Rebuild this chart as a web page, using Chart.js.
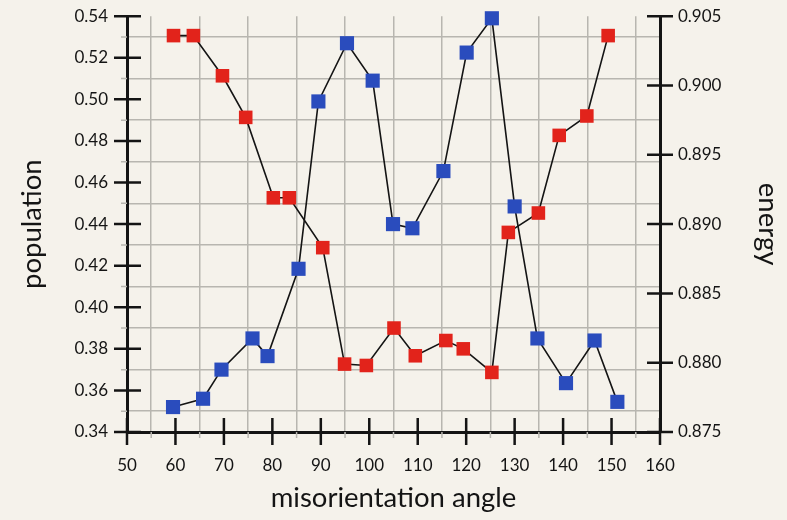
<!DOCTYPE html>
<html>
<head>
<meta charset="utf-8">
<script src="https://cdn.jsdelivr.net/npm/chart.js@4"></script>
<style>
  html, body { margin: 0; padding: 0; background: #f5f2eb; }
  #wrap { width: 787px; height: 520px; }
</style>
</head>
<body>
<div id="wrap"><canvas id="myChart"></canvas></div>
<script>
// population (left axis, blue) and energy (right axis, red) vs misorientation angle
let popAngles = [59.5, 65.7, 69.5, 75.9, 79.0, 85.4, 89.5, 95.4, 100.7, 104.9, 108.9, 115.3, 120.1, 125.3, 130.0, 134.7, 140.6, 146.5, 151.2];
let popValues = [0.352, 0.356, 0.370, 0.385, 0.3765, 0.4185, 0.499, 0.527, 0.509, 0.440, 0.438, 0.4655, 0.5225, 0.539, 0.4485, 0.385, 0.3635, 0.384, 0.3545];
let energyAngles = [59.6, 63.7, 69.7, 74.5, 80.2, 83.5, 90.4, 94.9, 99.4, 105.1, 109.5, 115.8, 119.4, 125.3, 128.7, 134.9, 139.2, 144.9, 149.3];
let energyValues = [0.9036, 0.9036, 0.9007, 0.8977, 0.8919, 0.8919, 0.8883, 0.8799, 0.8798, 0.8825, 0.8805, 0.8816, 0.8810, 0.8793, 0.8894, 0.8908, 0.8964, 0.8978, 0.9036];

let angleTicks = [50, 60, 70, 80, 90, 100, 110, 120, 130, 140, 150, 160];
let angleGrid = [55, 65, 75, 85, 95, 105, 115, 125, 135, 145, 155];
let popTicks = [0.34, 0.36, 0.38, 0.40, 0.42, 0.44, 0.46, 0.48, 0.50, 0.52, 0.54];
let popGrid = [0.35, 0.37, 0.39, 0.41, 0.43, 0.45, 0.47, 0.49, 0.51, 0.53];
let energyTicks = [0.875, 0.880, 0.885, 0.890, 0.895, 0.900, 0.905];

let fontFamily = "Lato, 'Noto Sans', sans-serif";
let ink = '#141414';
let gridGray = '#b8b6b0';

function toPoints(xs, ys) {
    return xs.map((x, i) => ({ x: x, y: ys[i] }));
}

function setTicks(list) {
    return function (scale) {
        scale.ticks = list.slice().sort((a, b) => a - b).map(v => ({ value: v }));
    };
}

function isIn(list, v) {
    return list.some(t => Math.abs(t - v) < 1e-9);
}

// long ticks crossing each axis line, short grey stubs for the grid lines
const tickMarks = {
    id: 'tickMarks',
    beforeDatasetsDraw(chart) {
        const { ctx, chartArea: a, scales } = chart;
        ctx.save();
        ctx.strokeStyle = gridGray;
        ctx.lineWidth = 1.5;
        ctx.beginPath();
        angleGrid.forEach(v => {
            let x = scales.x.getPixelForValue(v);
            ctx.moveTo(x, a.bottom);
            ctx.lineTo(x, a.bottom + 6);
        });
        popGrid.forEach(v => {
            let y = scales.y.getPixelForValue(v);
            ctx.moveTo(a.left - 6, y);
            ctx.lineTo(a.left, y);
        });
        ctx.stroke();

        ctx.strokeStyle = ink;
        ctx.lineWidth = 2.5;
        ctx.beginPath();
        angleTicks.forEach(v => {
            let x = scales.x.getPixelForValue(v);
            ctx.moveTo(x, a.bottom - 14);
            ctx.lineTo(x, a.bottom + 13);
        });
        popTicks.forEach(v => {
            let y = scales.y.getPixelForValue(v);
            ctx.moveTo(a.left - 13, y);
            ctx.lineTo(a.left + 14, y);
        });
        energyTicks.forEach(v => {
            let y = scales.y1.getPixelForValue(v);
            ctx.moveTo(a.right - 13, y);
            ctx.lineTo(a.right + 13, y);
        });
        ctx.stroke();
        ctx.restore();
    }
};

let myChart = document.querySelector('#myChart');
myChart.getContext('2d');
let mainChart = new Chart(myChart, {
    type: 'scatter',
    data: {
        datasets: [{
            label: 'population',
            data: toPoints(popAngles, popValues),
            yAxisID: 'y',
            showLine: true,
            borderColor: ink,
            borderWidth: 1.6,
            pointStyle: 'rect',
            pointRadius: 10,
            pointHoverRadius: 10,
            pointBorderWidth: 0,
            pointBackgroundColor: '#2a4cbd',
            clip: false
        },
        {
            label: 'energy',
            data: toPoints(energyAngles, energyValues),
            yAxisID: 'y1',
            showLine: true,
            borderColor: ink,
            borderWidth: 1.6,
            pointStyle: 'rect',
            pointRadius: 9.6,
            pointHoverRadius: 9.6,
            pointBorderWidth: 0,
            pointBackgroundColor: '#e2231b',
            clip: false
        }]
    },
    options: {
        responsive: true,
        maintainAspectRatio: false,
        animation: false,
        layout: { padding: { top: 15, left: 0, right: 0, bottom: 0 } },
        plugins: {
            legend: { display: false },
            tooltip: { enabled: false }
        },
        scales: {
            x: {
                type: 'linear',
                min: 50,
                max: 160,
                afterBuildTicks: setTicks(angleTicks.concat(angleGrid)),
                afterFit: s => { s.height = 88; },
                ticks: {
                    autoSkip: false,
                    maxRotation: 0,
                    padding: 10,
                    color: ink,
                    font: { family: fontFamily, size: 17 },
                    callback: v => isIn(angleTicks, v) ? String(v) : ''
                },
                grid: {
                    color: c => (c.tick && isIn(angleGrid, c.tick.value)) ? gridGray : 'transparent',
                    lineWidth: 1.5,
                    tickLength: 13,
                    tickColor: 'transparent'
                },
                border: { display: true, color: ink, width: 3 },
                title: {
                    display: true,
                    text: 'misorientation angle',
                    color: ink,
                    font: { family: fontFamily, size: 27.5 },
                    padding: { top: 0, bottom: 5 }
                }
            },
            y: {
                type: 'linear',
                position: 'left',
                min: 0.34,
                max: 0.54,
                afterBuildTicks: setTicks(popTicks.concat(popGrid)),
                afterFit: s => { s.width = 127; },
                ticks: {
                    autoSkip: false,
                    padding: 6,
                    color: ink,
                    font: { family: fontFamily, size: 17 },
                    callback: v => isIn(popTicks, v) ? v.toFixed(2) : ''
                },
                grid: {
                    color: c => (c.tick && isIn(popGrid, c.tick.value)) ? gridGray : 'transparent',
                    lineWidth: 1.5,
                    tickLength: 13,
                    tickColor: 'transparent'
                },
                border: { display: true, color: ink, width: 3 },
                title: {
                    display: true,
                    text: 'population',
                    color: ink,
                    font: { family: fontFamily, size: 27.5 },
                    padding: { top: 16, bottom: 0 }
                }
            },
            y1: {
                type: 'linear',
                position: 'right',
                min: 0.875,
                max: 0.905,
                afterBuildTicks: setTicks(energyTicks),
                afterFit: s => { s.width = 127; },
                ticks: {
                    autoSkip: false,
                    padding: 5,
                    color: ink,
                    font: { family: fontFamily, size: 17 },
                    callback: v => v.toFixed(3)
                },
                grid: {
                    drawOnChartArea: false,
                    tickLength: 13,
                    tickColor: 'transparent'
                },
                border: { display: true, color: ink, width: 3 },
                title: {
                    display: true,
                    text: 'energy',
                    color: ink,
                    font: { family: fontFamily, size: 27.5 },
                    padding: { top: 3, bottom: 0 }
                }
            }
        }
    },
    plugins: [tickMarks]
});
</script>
</body>
</html>
